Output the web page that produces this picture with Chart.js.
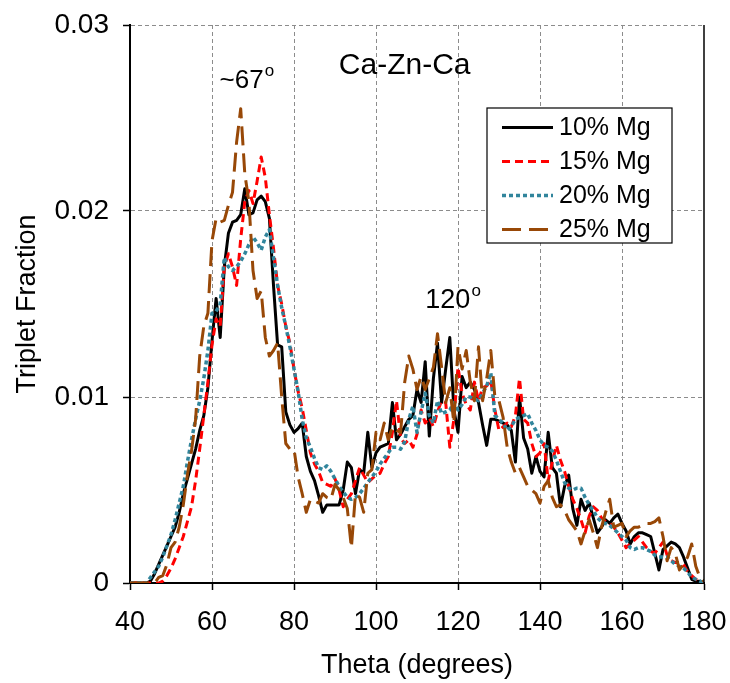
<!DOCTYPE html>
<html><head><meta charset="utf-8">
<script src="https://cdn.jsdelivr.net/npm/chart.js@4.4.0/dist/chart.umd.min.js"></script>
<style>html,body{margin:0;padding:0;background:#fff;}#wrap{width:730px;height:683px;}</style>
</head><body><div id="wrap"><canvas id="c" width="730" height="683"></canvas></div>
<script>
// ---- data ----
const theta = [40,41,42,43,44,45,46,47,48,49,50,51,52,53,54,55,56,57,58,59,60,61,62,63,64,65,66,67,68,69,70,71,72,73,74,75,76,77,78,79,80,81,82,83,84,85,86,87,88,89,90,91,92,93,94,95,96,97,98,99,100,101,102,103,104,105,106,107,108,109,110,111,112,113,114,115,116,117,118,119,120,121,122,123,124,125,126,127,128,129,130,131,132,133,134,135,136,137,138,139,140,141,142,143,144,145,146,147,148,149,150,151,152,153,154,155,156,157,158,159,160,161,162,163,164,165,166,167,168,169,170,171,172,173,174,175,176,177,178,179,180];

const mg10 = [0,0,0,0,0,
0.0001,0.0005,0.0010,0.0015,0.0020,
0.0025,0.0030,0.0038,0.0048,0.0056,
0.0064,0.0072,0.0082,0.0090,0.0105,
0.0130,0.0153,0.0132,0.0170,0.0188,
0.0194,0.0195,0.0198,0.0212,0.0198,
0.0199,0.0206,0.0208,0.0205,0.0196,
0.0160,0.0128,0.0127,0.0092,0.0085,
0.0081,0.0083,0.0086,0.0068,0.0060,
0.0055,0.0047,0.0038,0.0042,0.0042,
0.0042,0.0042,0.0050,0.0065,0.0062,
0.0048,0.0061,0.0059,0.0081,0.0062,
0.0070,0.0073,0.0074,0.0075,0.0097,
0.0077,0.0080,0.0084,0.0088,0.0090,
0.0104,0.0097,0.0119,0.0079,0.0110,
0.0129,0.0097,0.0115,0.0132,0.0093,
0.0081,0.0111,0.0105,0.0108,0.0104,
0.0097,0.0085,0.0074,0.0088,0.0088,
0.0087,0.0086,0.0085,0.0082,0.0065,
0.0100,0.0078,0.0072,0.0059,0.0068,
0.0060,0.0057,0.0081,0.0062,0.0059,
0.0041,0.0052,0.0058,0.0040,0.0031,
0.0045,0.0039,0.0043,0.0035,0.0027,
0.0030,0.0034,0.0032,0.0035,0.0037,
0.0032,0.0028,0.0021,0.0025,0.0027,
0.0027,0.0026,0.0025,0.0016,0.0007,
0.0018,0.0020,0.0022,0.0021,0.0019,
0.0014,0.0008,0.0002,0.0001,0.0001,0];

const mg15 = [0,0,0,0,0,
0,0,0,0.0001,0.0004,
0.0008,0.0013,0.0019,0.0025,0.0033,
0.0041,0.0055,0.0072,0.0090,0.0108,
0.0128,0.0142,0.0138,0.0170,0.0177,
0.0170,0.0160,0.0185,0.0205,0.0211,
0.0204,0.0216,0.0229,0.0218,0.0198,
0.0180,0.0160,0.0150,0.0138,0.0129,
0.0115,0.0103,0.0094,0.0082,0.0070,
0.0064,0.0060,0.0054,0.0053,0.0052,
0.0056,0.0050,0.0041,0.0045,0.0048,
0.0055,0.0062,0.0058,0.0054,0.0056,
0.0058,0.0059,0.0064,0.0068,0.0081,
0.0098,0.0078,0.0075,0.0077,0.0073,
0.0080,0.0093,0.0086,0.0089,0.0084,
0.0092,0.0098,0.0097,0.0073,0.0088,
0.0116,0.0102,0.0096,0.0093,0.0108,
0.0098,0.0105,0.0106,0.0109,0.0093,
0.0082,0.0084,0.0086,0.0084,0.0090,
0.0110,0.0088,0.0086,0.0075,0.0068,
0.0070,0.0075,0.0055,0.0065,0.0074,
0.0066,0.0060,0.0052,0.0045,0.0040,
0.0034,0.0027,0.0036,0.0041,0.0039,
0.0035,0.0033,0.0032,0.0030,0.0027,
0.0023,0.0019,0.0021,0.0023,0.0025,
0.0022,0.0019,0.0017,0.0016,0.0019,
0.0022,0.0015,0.0012,0.0011,0.0011,
0.0010,0.0006,0.0004,0.0002,0.0001,0];

const mg20 = [0,0,0,0,0,
0.0003,0.0006,0.0009,0.0014,0.0020,
0.0026,0.0034,0.0043,0.0052,0.0065,
0.0077,0.0088,0.0098,0.0110,0.0125,
0.0145,0.0146,0.0150,0.0175,0.0170,
0.0168,0.0170,0.0173,0.0177,0.0182,
0.0186,0.0183,0.0179,0.0186,0.0190,
0.0175,0.0160,0.0148,0.0138,0.0127,
0.0115,0.0103,0.0088,0.0078,0.0073,
0.0067,0.0062,0.0061,0.0063,0.0060,
0.0056,0.0052,0.0049,0.0046,0.0045,
0.0046,0.0048,0.0051,0.0054,0.0057,
0.0060,0.0064,0.0067,0.0070,0.0073,
0.0073,0.0072,0.0076,0.0088,0.0095,
0.0081,0.0092,0.0102,0.0090,0.0086,
0.0098,0.0091,0.0092,0.0093,0.0097,
0.0093,0.0096,0.0100,0.0100,0.0099,
0.0098,0.0102,0.0106,0.0113,0.0090,
0.0088,0.0086,0.0082,0.0084,0.0088,
0.0089,0.0090,0.0091,0.0086,0.0082,
0.0077,0.0074,0.0073,0.0071,0.0066,
0.0060,0.0054,0.0051,0.0050,0.0051,
0.0051,0.0046,0.0042,0.0039,0.0035,
0.0033,0.0032,0.0031,0.0029,0.0027,
0.0025,0.0023,0.0019,0.0018,0.0019,
0.0019,0.0018,0.0017,0.0015,0.0014,
0.0014,0.0014,0.0012,0.0010,0.0009,
0.0008,0.0006,0.0003,0.0002,0.0001,0];

const mg25 = [0,0,0,0,0,
0,0,0.0003,0.0004,0.0010,
0.0019,0.0022,0.0030,0.0042,0.0058,
0.0071,0.0088,0.0122,0.0138,0.0145,
0.0184,0.0196,0.0194,0.0195,0.0203,
0.0210,0.0237,0.0255,0.0220,0.0205,
0.0168,0.0153,0.0157,0.0132,0.0122,
0.0125,0.0129,0.0100,0.0075,0.0072,
0.0072,0.0057,0.0048,0.0038,0.0045,
0.0044,0.0043,0.0048,0.0046,0.0045,
0.0053,0.0050,0.0046,0.0040,0.0019,
0.0048,0.0046,0.0038,0.0059,0.0061,
0.0081,0.0077,0.0086,0.0077,0.0084,
0.0082,0.0081,0.0108,0.0122,0.0115,
0.0104,0.0111,0.0104,0.0110,0.0116,
0.0134,0.0116,0.0097,0.0105,0.0086,
0.0127,0.0115,0.0125,0.0108,0.0098,
0.0127,0.0098,0.0110,0.0125,0.0100,
0.0098,0.0089,0.0073,0.0065,0.0059,
0.0062,0.0057,0.0052,0.0050,0.0048,
0.0043,0.0052,0.0055,0.0046,0.0041,
0.0042,0.0039,0.0034,0.0031,0.0028,
0.0021,0.0028,0.0034,0.0027,0.0019,
0.0030,0.0038,0.0045,0.0030,0.0031,
0.0032,0.0025,0.0028,0.0030,0.0030,
0.0031,0.0032,0.0032,0.0033,0.0035,
0.0025,0.0012,0.0019,0.0016,0.0007,
0.0010,0.0014,0.0021,0.0009,0.0003,0.0001];

const seriesNames = ['10% Mg', '15% Mg', '20% Mg', '25% Mg'];
const xTicks = [40, 60, 80, 100, 120, 140, 160, 180];
const yTicks = [0, 0.01, 0.02, 0.03];
const yTickLabels = ['0', '0.01', '0.02', '0.03'];
const xTitle = 'Theta (degrees)';
const yTitle = 'Triplet Fraction';
const notes = [
  {text: '~67', sup: 'o', x: 68.5, y: 0.0270, size: 26},
  {text: 'Ca-Zn-Ca', sup: '', x: 107, y: 0.0278, size: 30},
  {text: '120', sup: 'o', x: 118.8, y: 0.0152, size: 27}
];

// ---- styles ----
const FONT = '"Liberation Sans", Arial, sans-serif';
const colors = ['#000000', '#ff0000', '#31859c', '#984807'];
const dashes = [[], [8, 5], [4, 3], [19, 8]];
const widths = [3, 3, 3.5, 3];
const seriesList = [mg10, mg15, mg20, mg25];

const datasets = seriesList.map((s, k) => ({
  label: seriesNames[k],
  data: s.map((v, i) => ({x: theta[i], y: v})),
  borderColor: colors[k],
  backgroundColor: colors[k],
  borderWidth: widths[k],
  borderDash: dashes[k],
  borderCapStyle: 'butt',
  borderJoinStyle: 'round',
  pointRadius: 0,
  tension: 0,
  fill: false,
  order: 4 - k
}));

const extras = {
  id: 'extras',
  afterDatasetsDraw(chart) {
    const {ctx, chartArea: a, scales} = chart;
    ctx.save();
    // right border
    ctx.strokeStyle = '#000'; ctx.lineWidth = 1.5;
    ctx.beginPath(); ctx.moveTo(a.right, a.top); ctx.lineTo(a.right, a.bottom); ctx.stroke();
    // annotations
    ctx.fillStyle = '#000';
    ctx.textBaseline = 'middle';
    notes.forEach(n => {
      const px = scales.x.getPixelForValue(n.x);
      const py = scales.y.getPixelForValue(n.y);
      ctx.font = n.size + 'px ' + FONT;
      const w1 = ctx.measureText(n.text).width;
      ctx.font = '17px ' + FONT;
      const w2 = n.sup ? ctx.measureText(n.sup).width + 1 : 0;
      const x0 = px - (w1 + w2) / 2;
      ctx.textAlign = 'left';
      ctx.font = n.size + 'px ' + FONT;
      ctx.fillText(n.text, x0, py);
      if (n.sup) { ctx.font = '17px ' + FONT; ctx.fillText(n.sup, x0 + w1 + 1, py - 9); }
    });
    // legend
    const bx = a.left + 357, by = a.top + 83, bw = 185, bh = 135;
    ctx.fillStyle = '#fff';
    ctx.fillRect(bx, by, bw, bh);
    ctx.strokeStyle = '#000'; ctx.lineWidth = 1.2;
    ctx.strokeRect(bx, by, bw, bh);
    chart.data.datasets.forEach((ds, k) => {
      const ry = by + 19.5 + k * 34;
      ctx.strokeStyle = ds.borderColor; ctx.lineWidth = ds.borderWidth;
      ctx.setLineDash(ds.borderDash); ctx.lineCap = 'butt';
      ctx.beginPath(); ctx.moveTo(bx + 15, ry); ctx.lineTo(bx + 66, ry); ctx.stroke();
      ctx.setLineDash([]);
      ctx.fillStyle = '#000'; ctx.font = '25px ' + FONT; ctx.textAlign = 'left';
      ctx.fillText(ds.label, bx + 72, ry + 1);
    });
    ctx.restore();
  }
};

const gridGray = '#8c8c8c';
new Chart(document.getElementById('c'), {
  type: 'line',
  data: {datasets},
  plugins: [extras],
  options: {
    responsive: false,
    animation: false,
    events: [],
    layout: {padding: {left: 4, right: 26, top: 25, bottom: 0}},
    plugins: {legend: {display: false}, tooltip: {enabled: false}},
    scales: {
      x: {
        type: 'linear', min: 40, max: 180,
        afterBuildTicks: s => { s.ticks = xTicks.map(v => ({value: v})); },
        afterFit: s => { s.height = 100; s.paddingLeft = 0; s.paddingRight = 0; },
        ticks: {font: {family: FONT, size: 27}, color: '#000', padding: 16, maxRotation: 0, autoSkip: false},
        grid: {color: c => (c.tick && (c.tick.value === 40 || c.tick.value === 180)) ? 'rgba(0,0,0,0)' : gridGray,
               lineWidth: 1, tickColor: '#000', tickLength: 7, tickWidth: 1.5},
        border: {display: true, color: '#000', width: 2, dash: [4, 3]},
        title: {display: true, text: xTitle, font: {family: FONT, size: 27}, color: '#000', padding: {top: 0, bottom: 1}}
      },
      y: {
        type: 'linear', min: 0, max: 0.03,
        afterBuildTicks: s => { s.ticks = yTicks.map(v => ({value: v})); },
        afterFit: s => { s.width = 126; s.paddingTop = 0; s.paddingBottom = 0; },
        ticks: {font: {family: FONT, size: 28}, color: '#000', padding: 14,
                callback: (v, i) => yTickLabels[i]},
        grid: {color: c => (c.tick && c.tick.value === 0) ? 'rgba(0,0,0,0)' : gridGray,
               lineWidth: 1, tickColor: '#000', tickLength: 7, tickWidth: 1.5},
        border: {display: true, color: '#000', width: 2, dash: [4, 3]},
        title: {display: true, text: yTitle, font: {family: FONT, size: 27}, color: '#000', padding: {top: 7, bottom: 0}}
      }
    }
  }
});
</script>
</body></html>
